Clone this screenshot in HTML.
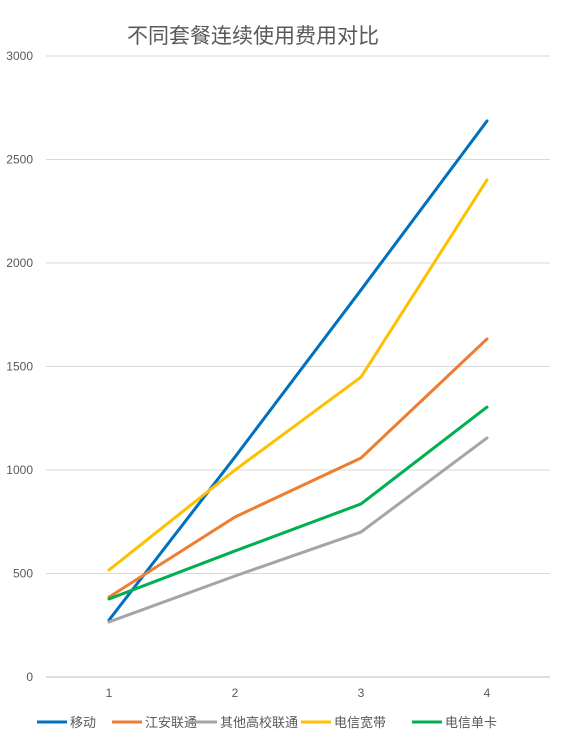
<!DOCTYPE html>
<html><head><meta charset="utf-8"><style>
body{margin:0;background:#fff;}
svg{display:block;font-family:"Liberation Sans","Noto Sans CJK SC",sans-serif;}
</style></head><body>
<svg id="chart" width="562" height="746">
<text x="253" y="43" text-anchor="middle" font-size="21" fill="#595959">不同套餐连续使用费用对比</text>
<g id="grid"></g><g id="ylab"></g><g id="xlab"></g><g id="lines"></g><g id="legend"></g>
</svg>
<script>
const categories=["1","2","3","4"];
const yTicks=[0,500,1000,1500,2000,2500,3000];
const seriesNames=["移动","江安联通","其他高校联通","电信宽带","电信单卡"];
const seriesColors=["#0070c0","#ed7d31","#a5a5a5","#ffc000","#00b050"];
const s1=[275,1063,1870,2686];
const s2=[386,773,1058,1633];
const s3=[266,488,700,1155];
const s4=[517,1000,1449,2401];
const s5=[377,609,836,1304];
const series=[s1,s2,s3,s4,s5];
const NS="http://www.w3.org/2000/svg";
const y=v=>677-v*(621/3000);
const x=i=>109+i*126;
function mk(tag,attrs,parent,txt){const e=document.createElementNS(NS,tag);for(const k in attrs)e.setAttribute(k,attrs[k]);if(txt!==undefined)e.textContent=txt;parent.appendChild(e);return e;}
const grid=document.getElementById('grid'),ylab=document.getElementById('ylab'),xlab=document.getElementById('xlab'),lines=document.getElementById('lines'),legend=document.getElementById('legend');
yTicks.forEach(t=>{
 const l=mk('line',{x1:46,x2:550,y1:y(t),y2:y(t),stroke:t===0?'#bfbfbf':'#d9d9d9','stroke-width':1},grid);
 
 
 const tx=mk('text',{x:33,y:y(t)+4,'text-anchor':'end','font-size':12,fill:'#595959'},ylab,String(t));
 
 
});
categories.forEach((c,i)=>{
 const tx=mk('text',{x:x(i),y:697,'text-anchor':'middle','font-size':12,fill:'#595959'},xlab,c);
 
 
});
series.forEach((s,k)=>{
 const p=mk('polyline',{points:s.map((v,i)=>x(i)+','+y(v)).join(' '),fill:'none',stroke:seriesColors[k],'stroke-width':3,'stroke-linejoin':'round','stroke-linecap':'round'},lines);
 
 
});
const lx=[37,112,187,301,412];
seriesNames.forEach((n,k)=>{
 const g=mk('g',{},legend);
 
 
 mk('line',{x1:lx[k],x2:lx[k]+30,y1:722,y2:722,stroke:seriesColors[k],'stroke-width':3},g);
 mk('text',{x:lx[k]+33,y:727,'font-size':13,fill:'#595959'},g,n);
});
</script>
</body></html>
